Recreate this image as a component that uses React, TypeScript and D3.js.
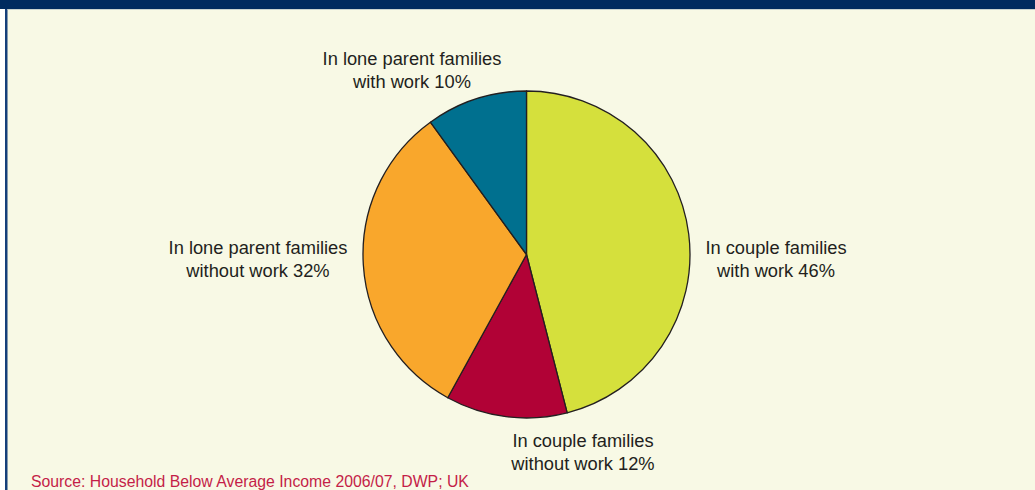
import React from "react";
import * as d3 from "d3";

const categories = [
  "In couple families with work",
  "In couple families without work",
  "In lone parent families without work",
  "In lone parent families with work",
];
const values = [46, 12, 32, 10];
const colors = ["#d5e03c", "#b10236", "#f9a72c", "#00708f"];
const labelLines = [
  ["In couple families", "with work 46%"],
  ["In couple families", "without work 12%"],
  ["In lone parent families", "without work 32%"],
  ["In lone parent families", "with work 10%"],
];
const labelPos = [
  [776, 247],
  [583, 440],
  [258, 247],
  [412, 58],
];
const source = "Source: Household Below Average Income 2006/07, DWP; UK";

export default function App() {
  const W = 1035, H = 490;
  const cx = 526.5, cy = 254.5, r = 163.5;
  const pie = d3.pie<number>().sort(null).value((d) => d)(values);
  const arc = d3.arc<d3.PieArcDatum<number>>().innerRadius(0).outerRadius(r);
  const font = "'Liberation Sans', Arial, Helvetica, sans-serif";
  return (
    <svg width={W} height={H} style={{ position: "absolute", left: 0, top: 0 }}>
      <rect x={0} y={0} width={W} height={H} fill="#f8f9e5" />
      <rect x={0} y={0} width={5} height={H} fill="#ffffff" />
      <rect x={5} y={0} width={2.5} height={H} fill="#153f7a" />
      <rect x={0} y={0} width={W} height={9} fill="#002b5f" />
      <rect x={7.5} y={9} width={W} height={1} fill="#c9d3cf" />
      <g transform={`translate(${cx},${cy})`}>
        {pie.map((p, i) => (
          <path key={categories[i]} d={arc(p) || ""} fill={colors[i]} stroke="#231f20" strokeWidth={1.3} strokeLinejoin="round" />
        ))}
      </g>
      {labelLines.map((lines, i) => (
        <text key={i} x={labelPos[i][0]} y={labelPos[i][1]} textAnchor="middle" fontFamily={font} fontSize={18.3} fill="#231f20">
          {lines.map((l, j) => (
            <tspan key={j} x={labelPos[i][0]} y={labelPos[i][1] + j * 23} dominantBaseline="central">{l}</tspan>
          ))}
        </text>
      ))}
      <text x={31} y={481} fontFamily={font} fontSize={15.8} fill="#c41e48" dominantBaseline="central">{source}</text>
    </svg>
  );
}
